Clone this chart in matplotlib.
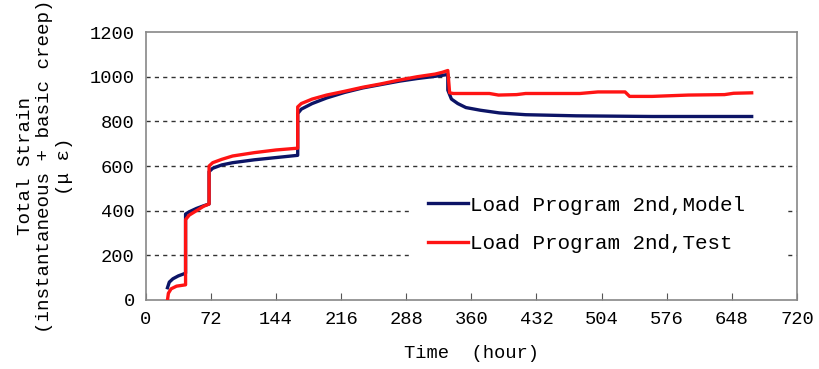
import matplotlib
matplotlib.use("Agg")
import matplotlib.pyplot as plt

# Load Program 2nd - model curve (time in hours, strain in micro-strain)
model_t = [24, 26, 30, 36, 44, 44, 48, 56, 64, 70, 70, 74, 84, 96, 120, 144, 168,
           168, 172, 184, 200, 220, 240, 260, 280, 300, 320, 334,
           334, 338, 345, 354, 370, 391, 420, 476, 560, 670]
model_v = [55, 80, 95, 108, 120, 385, 395, 410, 422, 430, 575, 590, 605, 615, 628, 638, 648,
           835, 855, 880, 905, 930, 950, 965, 980, 992, 1002, 1010,
           940, 900, 880, 862, 850, 838, 830, 825, 822, 822]

# Load Program 2nd - test curve
test_t = [24, 25, 28, 34, 44, 44, 48, 56, 64, 70, 70, 74, 84, 96, 120, 144, 168,
          168, 172, 184, 200, 220, 240, 260, 280, 300, 320, 328, 334,
          336, 340, 380, 390, 410, 420, 480, 500, 530, 535, 560, 600, 640, 650, 670]
test_v = [0, 30, 50, 62, 68, 360, 380, 400, 420, 430, 600, 615, 630, 645, 660, 672, 680,
          865, 880, 900, 918, 935, 953, 968, 985, 1000, 1012, 1020, 1028,
          928, 925, 925, 918, 920, 925, 925, 932, 932, 912, 912, 918, 920, 926, 928]

x_ticks = [0, 72, 144, 216, 288, 360, 432, 504, 576, 648, 720]
y_ticks = [0, 200, 400, 600, 800, 1000, 1200]

plt.rcParams["font.family"] = ["Liberation Mono", "DejaVu Sans"]

fig = plt.figure(figsize=(8.19, 3.69), dpi=100)
ax = fig.add_axes([0.178, 0.187, 0.795, 0.726])

for v in y_ticks[1:-1]:
    ax.axhline(v, color="#333333", linewidth=1.0, linestyle=(0, (3, 3)), zorder=1)

ax.plot(model_t, model_v, color="#0c1466", linewidth=2.4, zorder=3,
        label="Load Program 2nd,Model")
ax.plot(test_t, test_v, color="#ff1414", linewidth=2.4, zorder=4,
        label="Load Program 2nd,Test")

ax.set_xlim(0, 720)
ax.set_ylim(0, 1200)
ax.set_xticks(x_ticks)
ax.set_yticks(y_ticks)
ax.tick_params(axis="x", direction="in", length=5, labelsize=13.5, color="#555555", pad=8)
ax.tick_params(axis="y", length=0, labelsize=13.5, pad=8)
for s in ax.spines.values():
    s.set_color("#888888")
    s.set_linewidth(1.2)

ax.set_xlabel("Time  (hour)", fontsize=13.5, labelpad=12)
ax.set_ylabel("Total Strain\n(instantaneous + basic creep)\n(μ ε)", fontsize=13.8,
              linespacing=1.2, labelpad=12)

leg = ax.legend(loc="upper left", bbox_to_anchor=(0.405, 0.0, 0.58, 0.46),
                mode="expand", borderaxespad=0, fontsize=15, frameon=True,
                facecolor="white", edgecolor="white", framealpha=1, fancybox=False,
                handlelength=1.9, handletextpad=0.1, borderpad=0.9, labelspacing=0.95)
leg.set_zorder(5)

fig.savefig("out.png", dpi=100)
